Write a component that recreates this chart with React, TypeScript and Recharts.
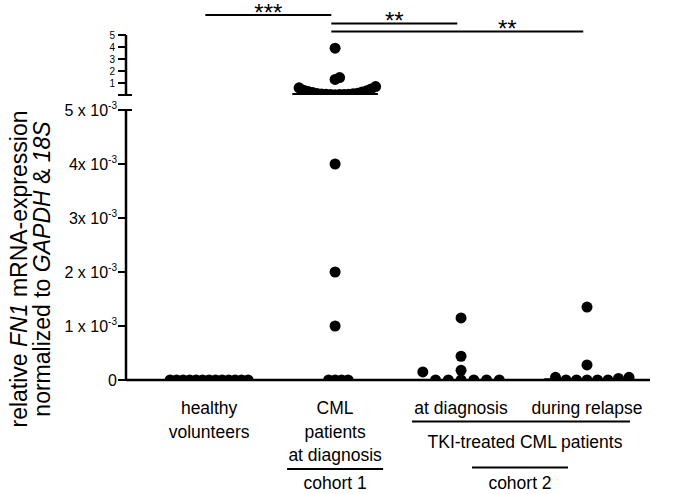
import { ScatterChart, Scatter, XAxis, YAxis, ReferenceLine } from "recharts";

const FONT = "'Liberation Sans', Arial, Helvetica, sans-serif";

// x categories, one entry per group (index 0..3)
const categoryLines = [
  ["healthy", "volunteers"],
  ["CML", "patients", "at diagnosis"],
  ["at diagnosis"],
  ["during relapse"],
];

// relative FN1 mRNA expression, one value per subject
const healthyVolunteers = [0, 0, 0, 0, 0, 0, 0, 0, 0, 0, 0, 0, 0];
const cmlAtDiagnosis = [
  0, 0, 0, 0, 0.001, 0.002, 0.004,
  0.03, 0.04, 0.05, 0.05, 0.06, 0.07, 0.08, 0.1, 0.12, 0.15, 0.2, 0.25, 0.3,
  0.35, 0.4, 0.5, 0.6, 0.7, 1.3, 1.45, 3.9,
];
const tkiAtDiagnosis = [0, 0, 0, 0, 0, 0, 0.00015, 0.00018, 0.00044, 0.00115];
const tkiDuringRelapse = [0, 0, 0, 0, 0, 0.00003, 0.00005, 0.00005, 0.00028, 0.00135];

// significance brackets
const comparisonFrom = [0, 1, 1];
const comparisonTo = [1, 2, 3];
const comparisonStars = ["***", "**", "**"];

// axis ticks (broken y axis: 0-5 on top, 0-5 x 10^-3 below)
const upperTicks = [0, 1, 2, 3, 4, 5];
const upperTickLabels = ["", "1", "2", "3", "4", "5"];
const lowerTicks = [0, 0.001, 0.002, 0.003, 0.004, 0.005];
const lowerTickLabels = ["0", "1 x 10", "2 x 10", "3x 10", "4x 10", "5 x 10"];

const groups = [healthyVolunteers, cmlAtDiagnosis, tkiAtDiagnosis, tkiDuringRelapse];

// layout
const W = 676;
const H = 494;
const LEFT = 126;
const RIGHT = 650;
const X_DOMAIN: [number, number] = [-0.66, 3.5];
const PX_PER_GROUP = (RIGHT - LEFT) / (X_DOMAIN[1] - X_DOMAIN[0]);
const BREAK = 0.005;
const UPPER_TOP = 35;
const UPPER_BOTTOM = 95;
const UPPER_MAX = 5;
const LOWER_TOP = 110;
const LOWER_BOTTOM = 380;
const upperPx = (UPPER_BOTTOM - UPPER_TOP) / UPPER_MAX;
const lowerPx = (LOWER_BOTTOM - LOWER_TOP) / BREAK;
const DOT_R = 5.5;
const lowerSpacing = [6.5, 6.5, 12.75, 10.5];
const upperSpacing = 4.5;
const bracketLevels = [15, 23.5, 31.5];
const bracketStarShift = [0, 0, 50];
const LABEL_SIZE = 17.5;

const xPx = (g: number) => LEFT + (g - X_DOMAIN[0]) * PX_PER_GROUP;

// simple column swarm: sorted values fill columns 0, +1, -1, +2 ... avoiding overlap
function swarm(values: number[], group: number, pxPerValue: number, stepPx: number) {
  const cols = new Map<number, number[]>();
  return [...values]
    .sort((a, b) => a - b)
    .map((v) => {
      const y = v * pxPerValue;
      for (let i = 0; ; i++) {
        const k = i === 0 ? 0 : i % 2 ? (i + 1) / 2 : -i / 2;
        const used = cols.get(k) ?? [];
        if (used.every((u) => Math.abs(u - y) >= 8.5)) {
          cols.set(k, [...used, y]);
          return { x: group + (k * stepPx) / PX_PER_GROUP, y: v };
        }
      }
    });
}

function median(values: number[]) {
  const s = [...values].sort((a, b) => a - b);
  const m = Math.floor(s.length / 2);
  return s.length % 2 ? s[m] : (s[m - 1] + s[m]) / 2;
}

const lowerPoints = groups.flatMap((vals, g) =>
  swarm(vals.filter((v) => v <= BREAK), g, lowerPx, lowerSpacing[g])
);
const upperPoints = groups.flatMap((vals, g) =>
  swarm(vals.filter((v) => v > BREAK), g, upperPx, upperSpacing)
);
const medians = groups.map(median);

const dot = (p: any) => <circle cx={p.cx} cy={p.cy} r={DOT_R} fill="#000" />;

function UpperTick({ x, y, payload }: any) {
  const i = upperTicks.indexOf(payload.value);
  return (
    <g>
      {payload.value === 0 && (
        <line x1={LEFT} x2={LEFT + 6} y1={y} y2={y} stroke="#000" strokeWidth={2} />
      )}
      <text x={x - 2} y={y} dy={3.8} textAnchor="end" fontSize={10} fontFamily={FONT} fill="#000">
        {upperTickLabels[i]}
      </text>
    </g>
  );
}

function LowerTick({ x, y, payload }: any) {
  const i = lowerTicks.indexOf(payload.value);
  return (
    <g>
      {payload.value === BREAK && (
        <line x1={LEFT} x2={LEFT + 6} y1={y} y2={y} stroke="#000" strokeWidth={2} />
      )}
      <text x={x} y={y} dy={5.5} textAnchor="end" fontSize={16} fontFamily={FONT} fill="#000">
        {lowerTickLabels[i]}
        {payload.value !== 0 && (
          <tspan dy={-7} fontSize={10}>
            -3
          </tspan>
        )}
      </text>
    </g>
  );
}

function CategoryTick({ x, y, payload }: any) {
  const lines = categoryLines[payload.value] ?? [];
  return (
    <text x={x} y={y} textAnchor="middle" fontSize={LABEL_SIZE} fontFamily={FONT} fill="#000">
      {lines.map((l, i) => (
        <tspan key={i} x={x} dy={i === 0 ? 34 : 23.5}>
          {l}
        </tspan>
      ))}
    </text>
  );
}

const axisStyle = { stroke: "#000", strokeWidth: 2.5 };
const tickStyle = { stroke: "#000", strokeWidth: 2 };

export default function App() {
  return (
    <div style={{ position: "absolute", left: 0, top: 0, width: W, height: H, background: "#fff" }}>
      {/* lower panel: 0 - 5 x 10^-3 */}
      <div style={{ position: "absolute", left: 0, top: 0 }}>
        <ScatterChart
          width={W}
          height={H}
          margin={{ top: LOWER_TOP, right: W - RIGHT, bottom: 14, left: 0 }}
        >
          <XAxis
            type="number"
            dataKey="x"
            domain={X_DOMAIN}
            ticks={[0, 1, 2, 3]}
            interval={0}
            height={H - LOWER_BOTTOM - 14}
            axisLine={axisStyle}
            tickLine={false}
            tickSize={0}
            tickMargin={0}
            tick={<CategoryTick />}
            allowDataOverflow
          />
          <YAxis
            type="number"
            dataKey="y"
            width={LEFT}
            domain={[0, BREAK]}
            ticks={lowerTicks}
            interval={0}
            axisLine={axisStyle}
            tickLine={tickStyle}
            tickSize={8}
            tickMargin={1}
            tick={<LowerTick />}
            allowDataOverflow
          />
          {medians.map((m, g) =>
            m <= BREAK ? (
              <ReferenceLine
                key={g}
                segment={[
                  { x: g - 0.34, y: m },
                  { x: g + 0.34, y: m },
                ]}
                stroke="#000"
                strokeWidth={2}
                ifOverflow="visible"
              />
            ) : null
          )}
          <Scatter data={lowerPoints} shape={dot} isAnimationActive={false} />
        </ScatterChart>
      </div>

      {/* upper panel: 0 - 5 */}
      <div style={{ position: "absolute", left: 0, top: 0 }}>
        <ScatterChart
          width={W}
          height={UPPER_BOTTOM + 5}
          margin={{ top: UPPER_TOP, right: W - RIGHT, bottom: 5, left: 0 }}
        >
          <XAxis type="number" dataKey="x" domain={X_DOMAIN} hide allowDataOverflow />
          <YAxis
            type="number"
            dataKey="y"
            width={LEFT}
            domain={[0, UPPER_MAX]}
            ticks={upperTicks}
            interval={0}
            axisLine={axisStyle}
            tickLine={tickStyle}
            tickSize={8}
            tickMargin={1}
            tick={<UpperTick />}
            allowDataOverflow
          />
          {medians.map((m, g) =>
            m > BREAK ? (
              <ReferenceLine
                key={g}
                segment={[
                  { x: g - 0.34, y: m },
                  { x: g + 0.34, y: m },
                ]}
                stroke="#000"
                strokeWidth={2}
                ifOverflow="visible"
              />
            ) : null
          )}
          {comparisonFrom.map((from, i) => {
            const yv = (UPPER_BOTTOM - bracketLevels[i]) / upperPx;
            return (
              <ReferenceLine
                key={"c" + i}
                segment={[
                  { x: from - 0.03, y: yv },
                  { x: comparisonTo[i] - 0.03, y: yv },
                ]}
                stroke="#000"
                strokeWidth={2}
                ifOverflow="visible"
                label={({ viewBox }: any) => (
                  <text
                    x={viewBox.x + viewBox.width / 2 + bracketStarShift[i]}
                    y={viewBox.y + 5.5}
                    textAnchor="middle"
                    fontSize={24}
                    fontFamily={FONT}
                    fill="#000"
                  >
                    {comparisonStars[i]}
                  </text>
                )}
              />
            );
          })}
          <Scatter data={upperPoints} shape={dot} isAnimationActive={false} />
        </ScatterChart>
      </div>

      {/* axis title and cohort annotations */}
      <svg
        width={W}
        height={H}
        style={{ position: "absolute", left: 0, top: 0, pointerEvents: "none" }}
      >
        <g fontFamily={FONT} fill="#000">
          <text transform="translate(27, 269) rotate(-90)" textAnchor="middle" fontSize={23}>
            relative <tspan fontStyle="italic">FN1</tspan> mRNA-expression
          </text>
          <text transform="translate(50, 269) rotate(-90)" textAnchor="middle" fontSize={23}>
            normalized to <tspan fontStyle="italic">GAPDH</tspan> &amp;{" "}
            <tspan fontStyle="italic">18S</tspan>
          </text>

          <line x1={xPx(1) - 48} x2={xPx(1) + 48} y1={469} y2={469} stroke="#000" strokeWidth={2} />
          <text x={xPx(1)} y={489} textAnchor="middle" fontSize={LABEL_SIZE}>
            cohort 1
          </text>

          <line x1={412} x2={630} y1={421.5} y2={421.5} stroke="#000" strokeWidth={2} />
          <text x={525} y={448} textAnchor="middle" fontSize={LABEL_SIZE}>
            TKI-treated CML patients
          </text>
          <line x1={472} x2={568} y1={467.5} y2={467.5} stroke="#000" strokeWidth={2} />
          <text x={520} y={489} textAnchor="middle" fontSize={LABEL_SIZE}>
            cohort 2
          </text>
        </g>
      </svg>
    </div>
  );
}
